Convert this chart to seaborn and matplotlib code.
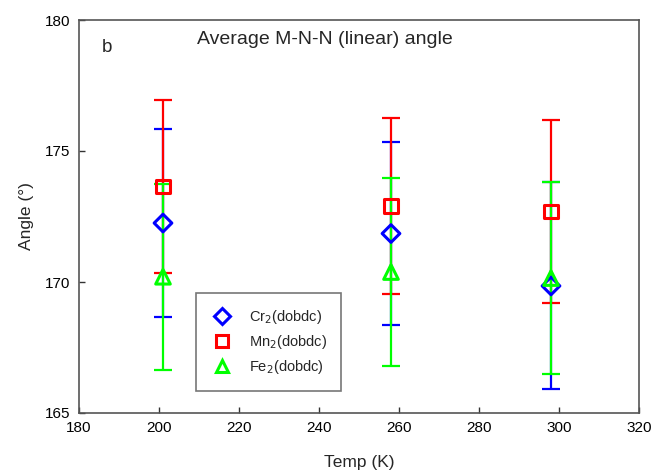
import matplotlib
matplotlib.use("Agg")
import matplotlib.pyplot as plt
from matplotlib.lines import Line2D
import seaborn as sns
import pandas as pd

temps = [201, 258, 298]
cr_angle = [172.25, 171.85, 169.85]
cr_err = [3.6, 3.5, 3.95]
mn_angle = [173.65, 172.9, 172.7]
mn_err = [3.3, 3.36, 3.5]
fe_angle = [170.2, 170.38, 170.15]
fe_err = [3.55, 3.58, 3.67]

series = [
    ("Cr$_2$(dobdc)", cr_angle, cr_err, "#0000ff", "D", 9.0),
    ("Mn$_2$(dobdc)", mn_angle, mn_err, "#ff0000", "s", 9.5),
    ("Fe$_2$(dobdc)", fe_angle, fe_err, "#00ff00", "^", 10.5),
]

sns.set_style("ticks")
plt.rcParams["font.family"] = ["Liberation Sans", "DejaVu Sans"]

fig = plt.figure(figsize=(6.55, 4.75), dpi=100)
ax = fig.add_axes([79 / 655, 1 - 413 / 475, 560 / 655, 393 / 475])

handles = []
for label, vals, errs, color, marker, ms in series:
    df = pd.DataFrame({"Temp": temps, "Angle": vals, "err": errs})
    ax.errorbar(df["Temp"], df["Angle"], yerr=df["err"], fmt="none",
                ecolor=color, elinewidth=1.6, capsize=6.5, capthick=1.6, zorder=2)
    sns.scatterplot(data=df, x="Temp", y="Angle", ax=ax, marker=marker,
                    s=ms ** 2, color=color, linewidth=2, zorder=3, legend=False)
    coll = ax.collections[-1]
    coll.set_facecolor("none")
    coll.set_edgecolor(color)
    coll.set_linewidth(2.2)
    handles.append(Line2D([], [], linestyle="none", marker=marker, markersize=ms * 0.85,
                          markerfacecolor="none", markeredgecolor=color,
                          markeredgewidth=2.2, label=label))

ax.set_xlim(180, 320)
ax.set_ylim(165, 180)
ax.set_xticks([180, 200, 220, 240, 260, 280, 300, 320])
ax.set_yticks([165, 170, 175, 180])
ax.tick_params(direction="in", length=4, width=1, colors="#333333",
               labelsize=11, labelcolor="black", pad=6)
for sp in ax.spines.values():
    sp.set_color("#555555")
    sp.set_linewidth(1.2)

ax.set_xlabel("Temp (K)", fontsize=12.5, labelpad=14)
ax.set_ylabel("Angle (°)", fontsize=12.5, labelpad=8)

ax.text(0.04, 0.93, "b", transform=ax.transAxes, fontsize=13.5, va="center", ha="left")
ax.text(0.21, 0.95, "Average M-N-N (linear) angle", transform=ax.transAxes,
        fontsize=14, va="center", ha="left")

leg = ax.legend(handles=handles, loc="lower left", bbox_to_anchor=(0.209, 0.056),
                fontsize=10.5, frameon=True, fancybox=False, edgecolor="#555555",
                borderpad=1.0, labelspacing=0.5, handletextpad=1.0,
                handlelength=1.6, borderaxespad=0)
leg.get_frame().set_linewidth(1.2)

fig.savefig("out.png", dpi=100)
